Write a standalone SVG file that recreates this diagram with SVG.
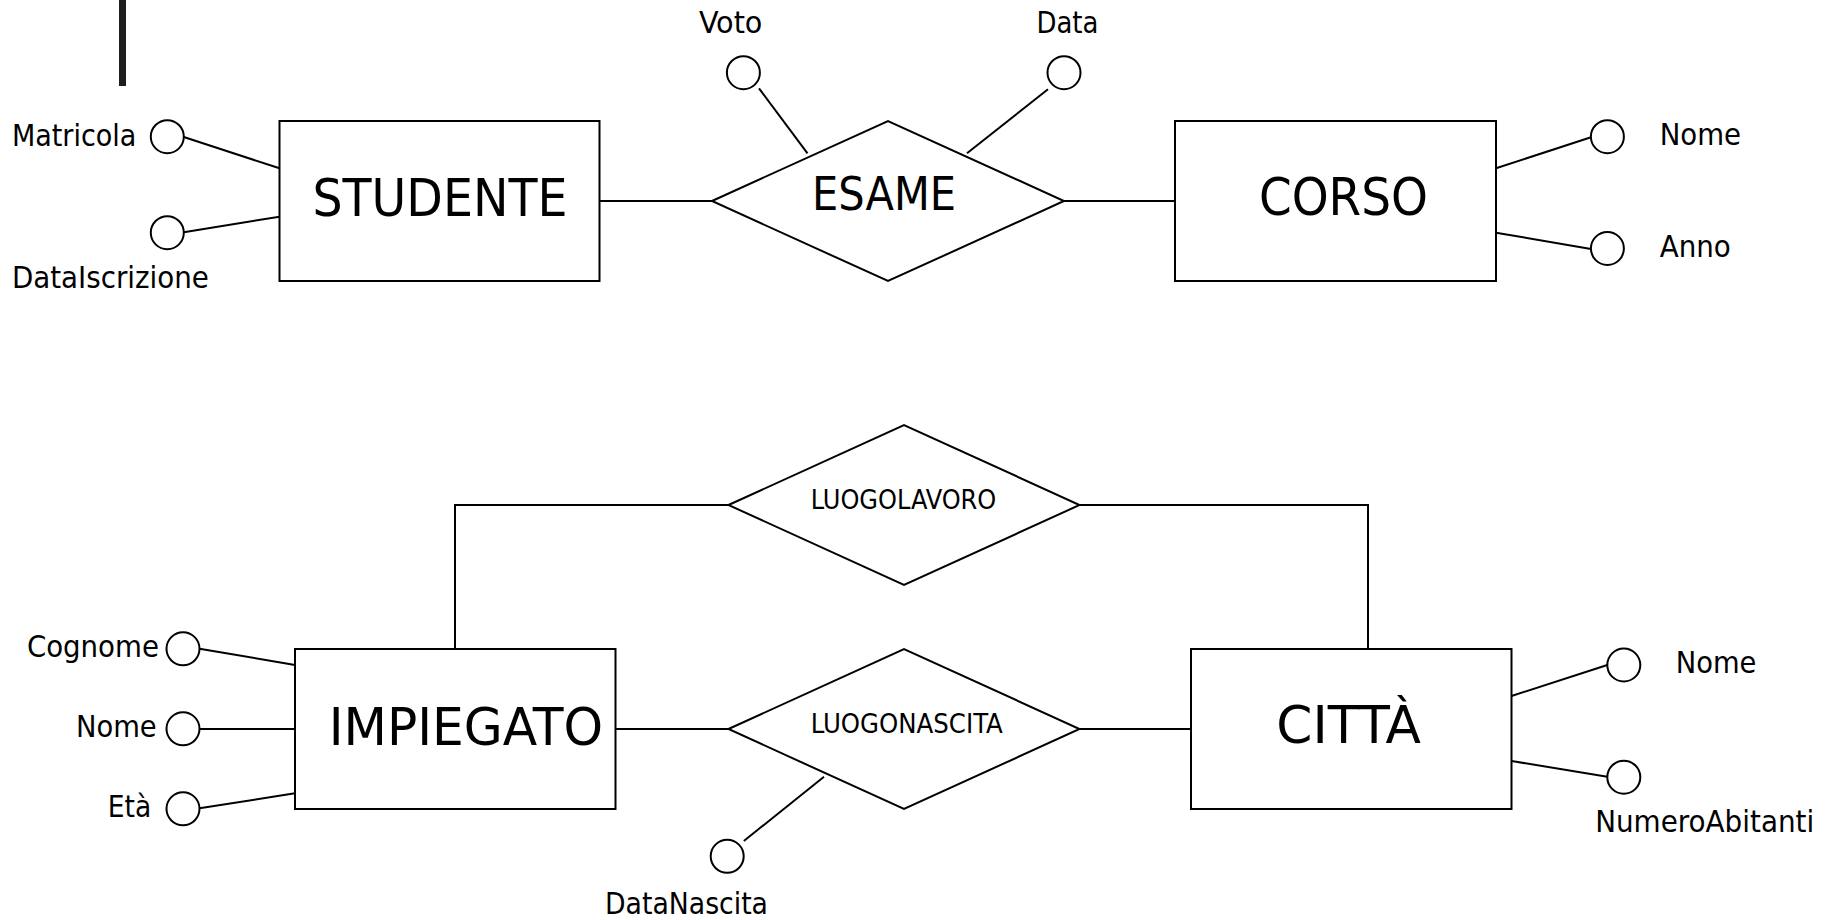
<svg xmlns="http://www.w3.org/2000/svg" width="1833" height="920" viewBox="0 0 1833 920">
  <style>
    .shape { fill: #ffffff; stroke: #000000; stroke-width: 2; }
    .link { fill: none; stroke: #000000; stroke-width: 2; }
    .attr { fill: #ffffff; stroke: #000000; stroke-width: 2; }
    text { font-family: "DejaVu Sans Condensed", "Liberation Sans", sans-serif; fill: #000000; }
    .lbl { font-size: 30px; }
    .ent { font-size: 52px; }
    .rel { font-size: 46px; }
    .rel-s { font-size: 26px; }
  </style>
  <rect width="1833" height="920" fill="#ffffff"/>

  <!-- vertical bar at top left -->
  <rect x="119" y="0" width="7" height="86" fill="#1e1e1e"/>

  <!-- connectors -->
  <g id="connectors">
    <line class="link" x1="599.5" y1="201" x2="712" y2="201"/>
    <line class="link" x1="1064" y1="201" x2="1175" y2="201"/>
    <polyline class="link" points="455,649 455,505 728.5,505"/>
    <polyline class="link" points="1079.5,505 1368,505 1368,649"/>
    <line class="link" x1="615.5" y1="729" x2="728.5" y2="729"/>
    <line class="link" x1="1079.5" y1="729" x2="1191" y2="729"/>
    <!-- attribute links -->
    <line class="link" x1="183.8" y1="137" x2="279.5" y2="168.3"/>
    <line class="link" x1="183.8" y1="232.3" x2="279.5" y2="216.7"/>
    <line class="link" x1="759" y1="88.3" x2="807.5" y2="153.3"/>
    <line class="link" x1="1048" y1="89.3" x2="967" y2="153.3"/>
    <line class="link" x1="1496" y1="168.3" x2="1591" y2="137.3"/>
    <line class="link" x1="1496" y1="232.7" x2="1591" y2="249"/>
    <line class="link" x1="199.5" y1="648.7" x2="295" y2="665"/>
    <line class="link" x1="199.5" y1="729" x2="295" y2="729"/>
    <line class="link" x1="199.5" y1="808.3" x2="295" y2="793.3"/>
    <line class="link" x1="743.8" y1="841" x2="824" y2="776.7"/>
    <line class="link" x1="1511.5" y1="696" x2="1607.3" y2="665"/>
    <line class="link" x1="1511.5" y1="761" x2="1607.3" y2="776.7"/>
  </g>

  <!-- entities -->
  <g id="studente">
    <rect class="shape" x="279.5" y="121" width="320" height="160"/>
    <text class="ent" x="312.4" y="216" textLength="255" lengthAdjust="spacingAndGlyphs">STUDENTE</text>
  </g>
  <g id="corso">
    <rect class="shape" x="1175" y="121" width="321" height="160"/>
    <text class="ent" x="1258.9" y="215" textLength="169" lengthAdjust="spacingAndGlyphs">CORSO</text>
  </g>
  <g id="impiegato">
    <rect class="shape" x="295" y="649" width="320.5" height="160"/>
    <text class="ent" x="328.7" y="745" textLength="274.4" lengthAdjust="spacingAndGlyphs">IMPIEGATO</text>
  </g>
  <g id="citta">
    <rect class="shape" x="1191" y="649" width="320.5" height="160"/>
    <text class="ent" x="1276.3" y="743.3" textLength="144.6" lengthAdjust="spacingAndGlyphs">CITTÀ</text>
  </g>

  <!-- relationships -->
  <g id="esame">
    <polygon class="shape" points="712,201 888,121 1064,201 888,281"/>
    <text class="rel" x="812" y="210" textLength="144" lengthAdjust="spacingAndGlyphs">ESAME</text>
  </g>
  <g id="luogolavoro">
    <polygon class="shape" points="728.5,505 904,425 1079.5,505 904,585"/>
    <text class="rel-s" x="810.7" y="509" textLength="185.6" lengthAdjust="spacingAndGlyphs">LUOGOLAVORO</text>
  </g>
  <g id="luogonascita">
    <polygon class="shape" points="728.5,729 904,649 1079.5,729 904,809"/>
    <text class="rel-s" x="810.7" y="733.3" textLength="192" lengthAdjust="spacingAndGlyphs">LUOGONASCITA</text>
  </g>

  <!-- attributes -->
  <g id="attr-matricola">
    <circle class="attr" cx="167.3" cy="136.7" r="16.5"/>
    <text class="lbl" x="11.9" y="145.7" textLength="124.5" lengthAdjust="spacingAndGlyphs">Matricola</text>
  </g>
  <g id="attr-dataiscrizione">
    <circle class="attr" cx="167.3" cy="232.7" r="16.5"/>
    <text class="lbl" x="11.9" y="288.3" textLength="197" lengthAdjust="spacingAndGlyphs">DataIscrizione</text>
  </g>
  <g id="attr-voto">
    <circle class="attr" cx="743.4" cy="72.7" r="16.5"/>
    <text class="lbl" x="699" y="33" textLength="63.4" lengthAdjust="spacingAndGlyphs">Voto</text>
  </g>
  <g id="attr-data">
    <circle class="attr" cx="1064" cy="72.7" r="16.5"/>
    <text class="lbl" x="1036.4" y="33" textLength="62" lengthAdjust="spacingAndGlyphs">Data</text>
  </g>
  <g id="attr-corso-nome">
    <circle class="attr" cx="1607.4" cy="136.7" r="16.5"/>
    <text class="lbl" x="1659.7" y="145" textLength="81.3" lengthAdjust="spacingAndGlyphs">Nome</text>
  </g>
  <g id="attr-anno">
    <circle class="attr" cx="1607.4" cy="248.5" r="16.5"/>
    <text class="lbl" x="1659.7" y="256.7" textLength="71" lengthAdjust="spacingAndGlyphs">Anno</text>
  </g>
  <g id="attr-cognome">
    <circle class="attr" cx="183" cy="648.8" r="16.5"/>
    <text class="lbl" x="26.9" y="657.3" textLength="132" lengthAdjust="spacingAndGlyphs">Cognome</text>
  </g>
  <g id="attr-impiegato-nome">
    <circle class="attr" cx="183" cy="728.8" r="16.5"/>
    <text class="lbl" x="75.9" y="737.3" textLength="80.8" lengthAdjust="spacingAndGlyphs">Nome</text>
  </g>
  <g id="attr-eta">
    <circle class="attr" cx="183" cy="808.8" r="16.5"/>
    <text class="lbl" x="107.8" y="817.3" textLength="43.5" lengthAdjust="spacingAndGlyphs">Età</text>
  </g>
  <g id="attr-datanascita">
    <circle class="attr" cx="727.2" cy="856.3" r="16.5"/>
    <text class="lbl" x="605" y="914" textLength="163" lengthAdjust="spacingAndGlyphs">DataNascita</text>
  </g>
  <g id="attr-citta-nome">
    <circle class="attr" cx="1623.8" cy="665" r="16.5"/>
    <text class="lbl" x="1675.8" y="673.3" textLength="80.6" lengthAdjust="spacingAndGlyphs">Nome</text>
  </g>
  <g id="attr-numeroabitanti">
    <circle class="attr" cx="1623.8" cy="777.2" r="16.5"/>
    <text class="lbl" x="1595.2" y="831.7" textLength="219" lengthAdjust="spacingAndGlyphs">NumeroAbitanti</text>
  </g>
</svg>
